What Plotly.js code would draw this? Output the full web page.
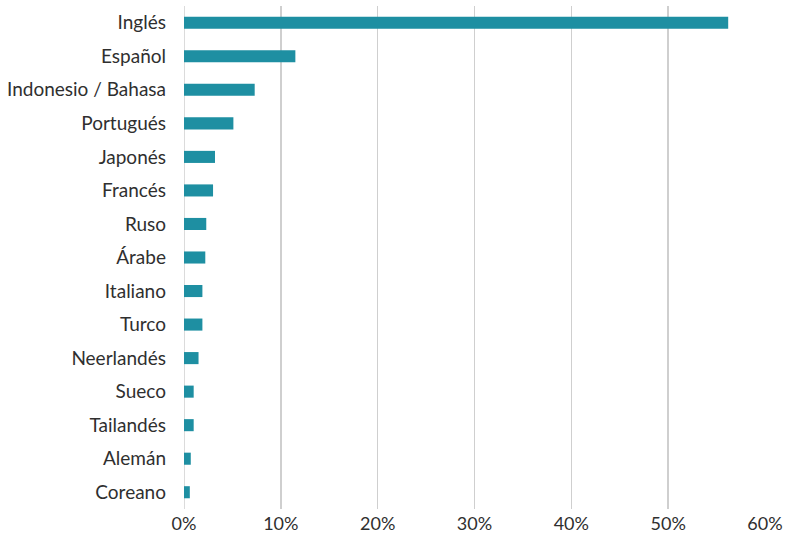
<!DOCTYPE html>
<html>
<head>
<meta charset="utf-8">
<script src="https://cdn.plot.ly/plotly-3.0.1.min.js"></script>
<style>html,body{margin:0;padding:0;background:#fff;}#chart{width:785px;height:545px;}</style>
</head>
<body>
<div id="chart"></div>
<script>
const languages = ["Inglés","Español","Indonesio / Bahasa","Portugués","Japonés","Francés","Ruso","Árabe","Italiano","Turco","Neerlandés","Sueco","Tailandés","Alemán","Coreano"];
const shares = [0.562,0.115,0.073,0.051,0.032,0.030,0.023,0.022,0.019,0.019,0.015,0.010,0.010,0.007,0.006];
const xTickVals = [0,0.1,0.2,0.3,0.4,0.5,0.6];
const xTickText = ["0%","10%","20%","30%","40%","50%","60%"];

Plotly.newPlot("chart", [{
  type: "bar",
  orientation: "h",
  y: languages,
  x: shares,
  marker: {color: "#1e8fa2"},
  hoverinfo: "skip"
}], {
  width: 785, height: 545,
  margin: {l: 184, r: 20, t: 6, b: 36},
  paper_bgcolor: "#fff", plot_bgcolor: "#fff",
  bargap: 0.64,
  font: {family: "Lato, sans-serif", size: 18, color: "#2f2f2f"},
  xaxis: {
    range: [0, 0.6], tickvals: xTickVals, ticktext: xTickText,
    showgrid: true, gridcolor: "#cfcfcf", gridwidth: 1.5,
    zeroline: false, showline: false, ticks: "",
    ticklabelstandoff: 2,
    tickfont: {size: 18, color: "#2f2f2f"}
  },
  yaxis: {
    autorange: "reversed", type: "category",
    showgrid: false, zeroline: false, showline: false, ticks: "",
    ticklabelstandoff: 17,
    tickfont: {size: 19, color: "#2f2f2f"}
  },
  shapes: [{type: "line", xref: "x", yref: "paper", x0: 0, x1: 0, y0: 0, y1: 1, line: {color: "#cfcfcf", width: 1.5}, layer: "below"}],
  showlegend: false
}, {displayModeBar: false, staticPlot: true});
</script>
</body>
</html>
